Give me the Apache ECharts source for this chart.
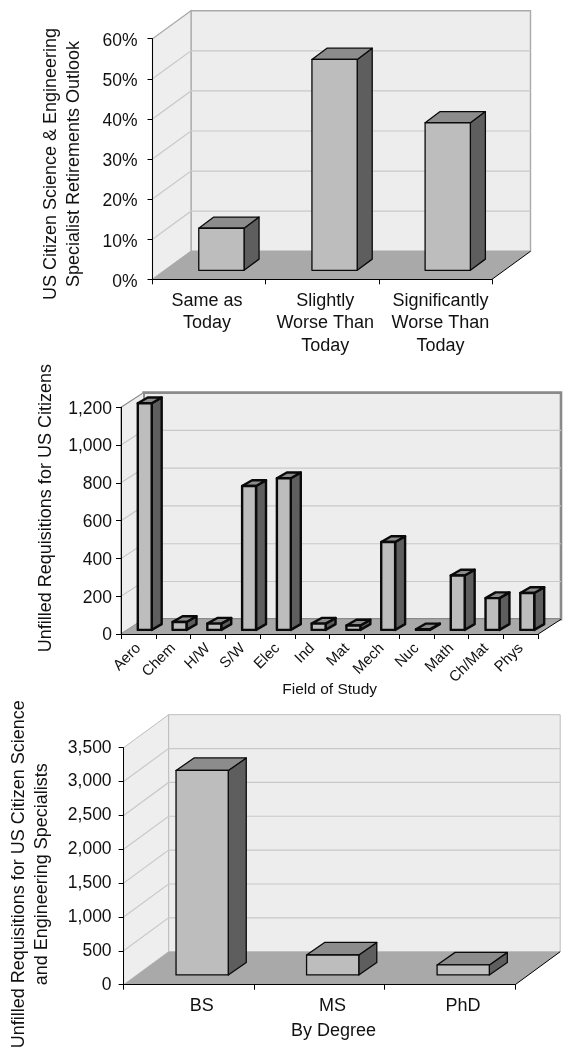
<!DOCTYPE html>
<html><head><meta charset="utf-8">
<style>html,body{margin:0;padding:0;background:#fff}#c{width:575px;height:1050px}</style>
<script src="https://cdn.jsdelivr.net/npm/echarts@6/dist/echarts.min.js"></script>
</head><body><div id="c"></div>
<script>
const outlookCats = ['Same as\nToday', 'Slightly\nWorse Than\nToday', 'Significantly\nWorse Than\nToday'];
const outlookVals = [10.5, 52.6, 36.8];
const outlookTicks = [0, 10, 20, 30, 40, 50, 60];

const fieldCats = ['Aero', 'Chem', 'H/W', 'S/W', 'Elec', 'Ind', 'Mat', 'Mech', 'Nuc', 'Math', 'Ch/Mat', 'Phys'];
const fieldVals = [1200, 42, 33, 762, 803, 33, 23, 465, 3, 288, 168, 195];
const fieldTicks = [0, 200, 400, 600, 800, 1000, 1200];

const degreeCats = ['BS', 'MS', 'PhD'];
const degreeVals = [3020, 295, 148];
const degreeTicks = [0, 500, 1000, 1500, 2000, 2500, 3000, 3500];

const FONT = '"Liberation Sans", Arial, sans-serif';
const panels = [
  { cats: outlookCats, vals: outlookVals, ticks: outlookTicks, left: 152.5, right: 492, top: 38.7, bottom: 279.3,
    dx: 38.5, dy: -28, bw: 0.40, base: 0.32, depthX: 0.39, depthY: 0.40, stroke: 1.3,
    wall: { color: '#aaaaaa', width: 1.4 }, fmt: v => v + '%', labelMargin: 15, labelLift: 5,
    title: 'US Citizen Science & Engineering\nSpecialist Retirements Outlook', nameGap: 67, namePad: [0, 10, 0, 0] },
  { cats: fieldCats, vals: fieldVals, ticks: fieldTicks, left: 121, right: 538.3, top: 407.3, bottom: 634,
    dx: 22.7, dy: -14.7, bw: 0.40, base: 0.28, depthX: 0.44, depthY: 0.39, stroke: 2.4,
    wall: { color: '#8a8a8a', width: 2.6 }, fmt: v => v.toLocaleString('en-US'), labelMargin: 9, labelLift: 3,
    title: 'Unfilled Requisitions for US Citizens', nameGap: 63, namePad: [0, 0, 0, 25] },
  { cats: degreeCats, vals: degreeVals, ticks: degreeTicks, left: 123.6, right: 515.2, top: 747.7, bottom: 984.7,
    dx: 45, dy: -33, bw: 0.40, base: 0.295, depthX: 0.40, depthY: 0.38, stroke: 1.3,
    wall: { color: '#bdbdbd', width: 1 }, fmt: v => v.toLocaleString('en-US'), labelMargin: 12, labelLift: 0,
    title: 'Unfilled Requisitions for US Citizen Science\nand Engineering Specialists', nameGap: 70, namePad: [0, 16, 0, 0] }
];

function pts(a) { return { points: a }; }

function wallsRenderer(p) {
  return function (params) {
    const r = params.coordSys;
    const x0 = r.x, x1 = r.x + r.width, yT = r.y, yB = r.y + r.height, dx = p.dx, dy = p.dy;
    const wallStyle = { fill: '#ededed', stroke: p.wall.color, lineWidth: p.wall.width };
    return { type: 'group', children: [
      { type: 'polygon', shape: pts([[x0 + dx, yT + dy], [x1 + dx, yT + dy], [x1 + dx, yB + dy], [x0 + dx, yB + dy]]), style: wallStyle },
      { type: 'polygon', shape: pts([[x0, yT], [x0 + dx, yT + dy], [x0 + dx, yB + dy], [x0, yB]]),
        style: { fill: '#eeeeee', stroke: p.wall.color, lineWidth: Math.min(p.wall.width, 1.2) } },
      { type: 'polygon', shape: pts([[x0, yB], [x1, yB], [x1 + dx, yB + dy], [x0 + dx, yB + dy]]), style: { fill: '#a9a9a9' } },
      { type: 'line', shape: { x1: x1, y1: yB, x2: x1 + dx, y2: yB + dy }, style: { stroke: '#000', lineWidth: 1 } }
    ] };
  };
}
function gridRenderer(p) {
  return function (params, api) {
    const r = params.coordSys;
    const y = api.coord([0, api.value(1)])[1];
    const x0 = r.x, x1 = r.x + r.width;
    return { type: 'polyline', shape: pts([[x0, y], [x0 + p.dx, y + p.dy], [x1 + p.dx, y + p.dy]]),
      style: { stroke: '#c9c9c9', lineWidth: 1.2, fill: null } };
  };
}
function barRenderer(p) {
  return function (params, api) {
    const i = api.value(0), v = api.value(1);
    const c = api.coord([i, v]), z = api.coord([i, 0]);
    const w = api.size([1, 0])[0] * p.bw;
    const ox = p.dx * p.base, oy = p.dy * p.base;
    const ddx = p.dx * p.depthX, ddy = p.dy * p.depthY;
    const l = c[0] - w / 2 + ox, rr = c[0] + w / 2 + ox, t = c[1] + oy, b = z[1] + oy;
    const s = f => ({ fill: f, stroke: '#0a0a0a', lineWidth: p.stroke, lineJoin: 'round' });
    return { type: 'group', children: [
      { type: 'polygon', shape: pts([[rr, t], [rr + ddx, t + ddy], [rr + ddx, b + ddy], [rr, b]]), style: s('#5e5e5e') },
      { type: 'polygon', shape: pts([[l, t], [l + ddx, t + ddy], [rr + ddx, t + ddy], [rr, t]]), style: s('#8c8c8c') },
      { type: 'polygon', shape: pts([[l, t], [rr, t], [rr, b], [l, b]]), style: s('#bdbdbd') }
    ] };
  };
}

const grid = [], xAxis = [], yAxis = [], series = [];
panels.forEach((p, k) => {
  grid.push({ left: p.left, top: p.top, width: p.right - p.left, height: p.bottom - p.top, outerBoundsMode: 'none', containLabel: false });
  const axisLine = { show: true, lineStyle: { color: '#000', width: 1 } };
  const x = {
    type: 'category', gridIndex: k, data: p.cats, z: 10, axisLine, axisTick: { show: true, length: 5, lineStyle: { color: '#000' } },
    axisLabel: { color: '#111', fontFamily: FONT, fontSize: 18, lineHeight: 22, margin: 10, interval: 0 }
  };
  if (k === 0) {
    const shifts = ['a', 'b', 'c'];
    x.axisLabel.formatter = (v, i) => v.split('\n').map(s => '{' + shifts[i] + '|' + s + '}').join('\n');
    const st = pad => ({ fontFamily: FONT, fontSize: 18, lineHeight: 22.5, color: '#111', padding: pad });
    x.axisLabel.margin = 10;
    x.axisLabel.rich = { a: st([0, 4, 0, 0]), b: st([0, 0, 0, 6]), c: st([0, 0, 0, 10]) };
  }
  if (k === 1) {
    Object.assign(x.axisLabel, { rotate: 45, fontSize: 15, margin: 12, lineHeight: 16 });
    Object.assign(x, { name: 'Field of Study', nameLocation: 'middle', nameGap: 48, nameMoveOverlap: false,
      nameTextStyle: { fontFamily: FONT, fontSize: 15.5, color: '#111' } });
  }
  if (k === 2) {
    x.axisLabel.padding = [0, 0, 0, 26];
    Object.assign(x, { name: 'By Degree', nameLocation: 'middle', nameGap: 37,
      nameTextStyle: { fontFamily: FONT, fontSize: 18, color: '#111', padding: [0, 0, 0, 28] } });
  }
  xAxis.push(x);
  const yLabel = { color: '#111', fontFamily: FONT, fontSize: 17.5, margin: p.labelMargin, formatter: p.fmt };
  if (p.labelLift) { yLabel.verticalAlign = 'top'; yLabel.lineHeight = p.labelLift; }
  yAxis.push({
    type: 'value', gridIndex: k, min: p.ticks[0], max: p.ticks[p.ticks.length - 1], interval: p.ticks[1] - p.ticks[0], z: 10,
    axisLine, axisTick: { show: true, length: 5, lineStyle: { color: '#000' } }, splitLine: { show: false },
    axisLabel: yLabel,
    name: p.title, nameLocation: 'middle', nameRotate: 90, nameGap: p.nameGap,
    nameTextStyle: { fontFamily: FONT, fontSize: 18, lineHeight: 23, color: '#111', padding: p.namePad }
  });
  const common = { type: 'custom', xAxisIndex: k, yAxisIndex: k, silent: true, clip: false, animation: false };
  series.push(Object.assign({}, common, { z: 1, data: [[0, 0]], renderItem: wallsRenderer(p) }));
  series.push(Object.assign({}, common, { z: 2, data: p.ticks.slice(1, -1).map(t => [0, t]), renderItem: gridRenderer(p) }));
  series.push(Object.assign({}, common, { z: 3, data: p.vals.map((v, i) => [i, v]), encode: { x: 0, y: 1 }, renderItem: barRenderer(p) }));
});

const chart = echarts.init(document.getElementById('c'), null, { renderer: 'canvas' });
chart.setOption({ animation: false, backgroundColor: '#ffffff', tooltip: { show: false }, grid, xAxis, yAxis, series });
</script></body></html>
